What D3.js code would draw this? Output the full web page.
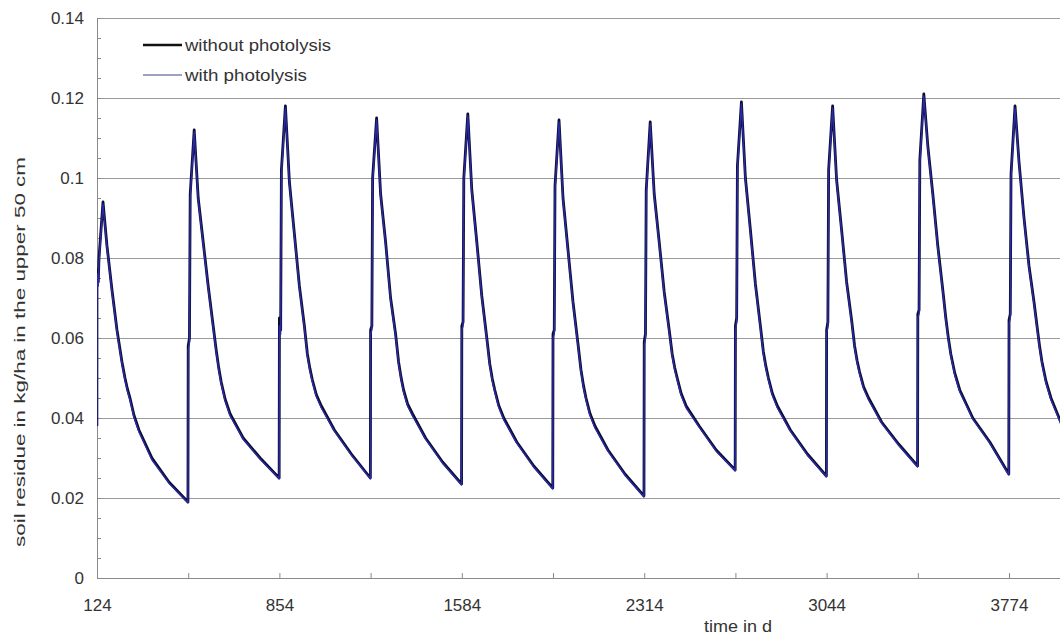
<!DOCTYPE html>
<html>
<head>
<meta charset="utf-8">
<script src="https://cdn.jsdelivr.net/npm/d3@7"></script>
<style>
body { margin: 0; background: #fff; }
text { font-family: "Liberation Sans", Arial, sans-serif; }
</style>
</head>
<body>
<div class="chart"></div>
<script>
// soil residue chart, with / without photolysis

// start day of each yearly application cycle
var cycleStart = [124, 489, 854, 1219, 1584, 1949, 2314, 2679, 3044, 3409, 3774];
// days after cycle start where the values below were read
var dayOffset = [0, 5, 8, 24, 40, 60, 80, 100, 112, 122, 132, 148, 168, 220, 288, 364];
// residue before the first application
var firstPoint = [123.5, 0.038];

var withoutPhotolysis = [
    [0.077, 0.074, 0.080, 0.094, 0.083, 0.072, 0.062, 0.054, 0.050, 0.0472, 0.045, 0.0407, 0.037, 0.030, 0.024, 0.019],
    [0.058, 0.060, 0.096, 0.112, 0.095, 0.084, 0.073, 0.063, 0.057, 0.0526, 0.049, 0.0447, 0.041, 0.035, 0.030, 0.025],
    [0.065, 0.062, 0.102, 0.118, 0.099, 0.086, 0.073, 0.063, 0.056, 0.0524, 0.0495, 0.0458, 0.043, 0.037, 0.031, 0.025],
    [0.062, 0.063, 0.100, 0.115, 0.096, 0.084, 0.070, 0.061, 0.054, 0.0501, 0.047, 0.0435, 0.041, 0.035, 0.029, 0.0235],
    [0.063, 0.064, 0.100, 0.116, 0.097, 0.084, 0.0705, 0.060, 0.0535, 0.0498, 0.047, 0.0431, 0.040, 0.034, 0.028, 0.0225],
    [0.061, 0.062, 0.098, 0.1145, 0.095, 0.082, 0.069, 0.0585, 0.052, 0.0481, 0.045, 0.0411, 0.038, 0.032, 0.026, 0.0205],
    [0.059, 0.061, 0.097, 0.114, 0.096, 0.084, 0.0715, 0.062, 0.056, 0.0526, 0.050, 0.0461, 0.043, 0.038, 0.032, 0.027],
    [0.063, 0.065, 0.103, 0.119, 0.100, 0.087, 0.0735, 0.063, 0.0565, 0.0529, 0.050, 0.0461, 0.043, 0.037, 0.031, 0.0255],
    [0.062, 0.064, 0.102, 0.118, 0.0995, 0.087, 0.074, 0.0645, 0.058, 0.0543, 0.0515, 0.0478, 0.045, 0.039, 0.0335, 0.028],
    [0.066, 0.067, 0.1045, 0.121, 0.108, 0.096, 0.083, 0.072, 0.065, 0.0601, 0.056, 0.0512, 0.047, 0.040, 0.034, 0.026],
    [0.0645, 0.066, 0.101, 0.118, 0.104, 0.090, 0.078, 0.069, 0.063, 0.0581, 0.054, 0.0492, 0.045, 0.037, 0.032, 0.027]
];

var withPhotolysis = [
    [0.076, 0.073, 0.079, 0.0935, 0.0825, 0.0715, 0.0615, 0.0535, 0.0495, 0.0467, 0.0445, 0.0402, 0.0365, 0.0295, 0.0237, 0.0188],
    [0.057, 0.059, 0.095, 0.1115, 0.0945, 0.0835, 0.0725, 0.0625, 0.0565, 0.0521, 0.0485, 0.0442, 0.0405, 0.0347, 0.0297, 0.0248],
    [0.063, 0.061, 0.101, 0.1175, 0.0985, 0.0855, 0.0725, 0.0625, 0.0555, 0.0519, 0.049, 0.0453, 0.0425, 0.0367, 0.0307, 0.0248],
    [0.061, 0.062, 0.099, 0.1145, 0.0955, 0.0835, 0.0695, 0.0605, 0.0535, 0.0496, 0.0465, 0.0430, 0.0405, 0.0347, 0.0287, 0.0233],
    [0.062, 0.063, 0.099, 0.1155, 0.0965, 0.0835, 0.070, 0.0595, 0.053, 0.0493, 0.0465, 0.0426, 0.0395, 0.0337, 0.0277, 0.0223],
    [0.060, 0.061, 0.097, 0.114, 0.0945, 0.0815, 0.0685, 0.058, 0.0515, 0.0476, 0.0445, 0.0406, 0.0375, 0.0317, 0.0257, 0.0203],
    [0.058, 0.060, 0.096, 0.1135, 0.0955, 0.0835, 0.071, 0.0615, 0.0555, 0.0521, 0.0495, 0.0456, 0.0425, 0.0377, 0.0317, 0.0268],
    [0.062, 0.064, 0.102, 0.1185, 0.0995, 0.0865, 0.073, 0.0625, 0.056, 0.0524, 0.0495, 0.0456, 0.0425, 0.0367, 0.0307, 0.0253],
    [0.061, 0.063, 0.101, 0.1175, 0.099, 0.0865, 0.0735, 0.064, 0.0575, 0.0538, 0.051, 0.0473, 0.0445, 0.0387, 0.0332, 0.0278],
    [0.065, 0.066, 0.1035, 0.1205, 0.1075, 0.0955, 0.0825, 0.0715, 0.0645, 0.0596, 0.0555, 0.0507, 0.0465, 0.0397, 0.0337, 0.0258],
    [0.0635, 0.065, 0.100, 0.1175, 0.1035, 0.0895, 0.0775, 0.0685, 0.0625, 0.0576, 0.0535, 0.0487, 0.0445, 0.0367, 0.0317, 0.0268]
];

// tick values and labels
var xLabelTicks = [124, 854, 1584, 2314, 3044, 3774];
var yTicks = [0, 0.02, 0.04, 0.06, 0.08, 0.1, 0.12, 0.14];
var yTickLabels = ["0", "0.02", "0.04", "0.06", "0.08", "0.1", "0.12", "0.14"];
var seriesNames = ["without photolysis", "with photolysis"];

// layout
var svgWidth = 1060, svgHeight = 639;
var plot = {left: 97, right: 1060, top: 18, bottom: 578};

var xScale = d3.scaleLinear().domain([124, 3978]).range([plot.left, plot.right]);
var yScale = d3.scaleLinear().domain([0, 0.14]).range([plot.bottom, plot.top]);

var svg = d3.select(".chart")
    .append("svg")
    .attr("width", svgWidth)
    .attr("height", svgHeight)
    .style("display", "block")
    .style("background", "#fff");

// turn the cycle arrays into one list of points
function buildSeries(values) {
    var pts = [{day: firstPoint[0], value: firstPoint[1]}];
    cycleStart.forEach(function(start, i) {
        dayOffset.forEach(function(off, j) {
            pts.push({day: start + off, value: values[i][j]});
        });
    });
    return pts;
}

var seriesData = [buildSeries(withoutPhotolysis), buildSeries(withPhotolysis)];

// horizontal grid lines
svg.append("g")
    .attr("class", "grid")
    .attr("transform", "translate(" + plot.left + ",0)")
    .call(d3.axisLeft(yScale).tickValues(yTicks).tickSize(-(plot.right - plot.left)).tickFormat(""))
    .call(function(g) { g.select(".domain").remove(); })
    .selectAll("line")
    .attr("stroke", "#9a9a9a");

// y axis line + small inner ticks
svg.append("g")
    .attr("transform", "translate(" + plot.left + ",0)")
    .call(d3.axisLeft(yScale).tickValues(d3.range(0, 0.1401, 0.005)).tickSize(-4).tickSizeOuter(0).tickFormat(""))
    .call(function(g) {
        g.select(".domain").attr("stroke", "#8a8a8a");
        g.selectAll("line").attr("stroke", "#8a8a8a");
    });

// y labels
svg.append("g")
    .attr("transform", "translate(" + plot.left + ",0)")
    .call(d3.axisLeft(yScale).tickValues(yTicks).tickSize(0).tickPadding(13)
        .tickFormat(function(d, i) { return yTickLabels[i]; }))
    .call(function(g) { g.select(".domain").remove(); })
    .attr("font-family", "Liberation Sans, Arial, sans-serif")
    .attr("font-size", 17)
    .selectAll("text")
    .attr("fill", "#333");

// x axis line + ticks pointing up
svg.append("g")
    .attr("transform", "translate(0," + plot.bottom + ")")
    .call(d3.axisBottom(xScale).tickValues(cycleStart).tickSize(-5).tickSizeOuter(0).tickFormat(""))
    .call(function(g) {
        g.select(".domain").attr("stroke", "#8a8a8a");
        g.selectAll("line").attr("stroke", "#8a8a8a");
    });

// x labels
svg.append("g")
    .attr("transform", "translate(0," + plot.bottom + ")")
    .call(d3.axisBottom(xScale).tickValues(xLabelTicks).tickSize(0).tickPadding(21).tickFormat(d3.format("d")))
    .call(function(g) { g.select(".domain").remove(); })
    .attr("font-family", "Liberation Sans, Arial, sans-serif")
    .attr("font-size", 17)
    .selectAll("text")
    .attr("fill", "#333");

// axis titles
svg.append("text")
    .attr("x", 738)
    .attr("y", 632)
    .attr("text-anchor", "middle")
    .attr("font-size", 16)
    .attr("fill", "#333")
    .attr("textLength", 68)
    .attr("lengthAdjust", "spacingAndGlyphs")
    .text("time in d");

svg.append("text")
    .attr("transform", "translate(25,352) rotate(-90)")
    .attr("text-anchor", "middle")
    .attr("font-size", 15)
    .attr("fill", "#333")
    .attr("textLength", 390)
    .attr("lengthAdjust", "spacingAndGlyphs")
    .text("soil residue in kg/ha in the upper 50 cm");

// clip the lines to the plot area
svg.append("clipPath")
    .attr("id", "plot-clip")
    .append("rect")
    .attr("x", plot.left)
    .attr("y", 0)
    .attr("width", plot.right - plot.left)
    .attr("height", plot.bottom);

var line = d3.line()
    .x(function(d) { return xScale(d.day); })
    .y(function(d) { return yScale(d.value); });

var lineColors = ["#0c0c30", "#2a2aa6"];
var lineWidths = [2.8, 1.4];

svg.append("g")
    .attr("clip-path", "url(#plot-clip)")
    .selectAll("path")
    .data(seriesData)
    .enter().append("path")
    .attr("d", line)
    .attr("fill", "none")
    .attr("stroke", function(d, i) { return lineColors[i]; })
    .attr("stroke-width", function(d, i) { return lineWidths[i]; })
    .attr("stroke-linejoin", "round");

// legend
var legend = svg.append("g")
    .selectAll("g")
    .data(seriesNames)
    .enter().append("g")
    .attr("transform", function(d, i) { return "translate(143," + (45 + i * 30) + ")"; });

legend.append("line")
    .attr("x1", 0)
    .attr("x2", 39)
    .attr("stroke", function(d, i) { return i == 0 ? "#111" : "#8080b0"; })
    .attr("stroke-width", function(d, i) { return i == 0 ? 2.6 : 1.6; });

legend.append("text")
    .attr("x", 42)
    .attr("y", 6)
    .attr("font-size", 16)
    .attr("fill", "#333")
    .attr("textLength", function(d, i) { return i == 0 ? 146 : 122; })
    .attr("lengthAdjust", "spacingAndGlyphs")
    .text(function(d) { return d; });
</script>
</body>
</html>
